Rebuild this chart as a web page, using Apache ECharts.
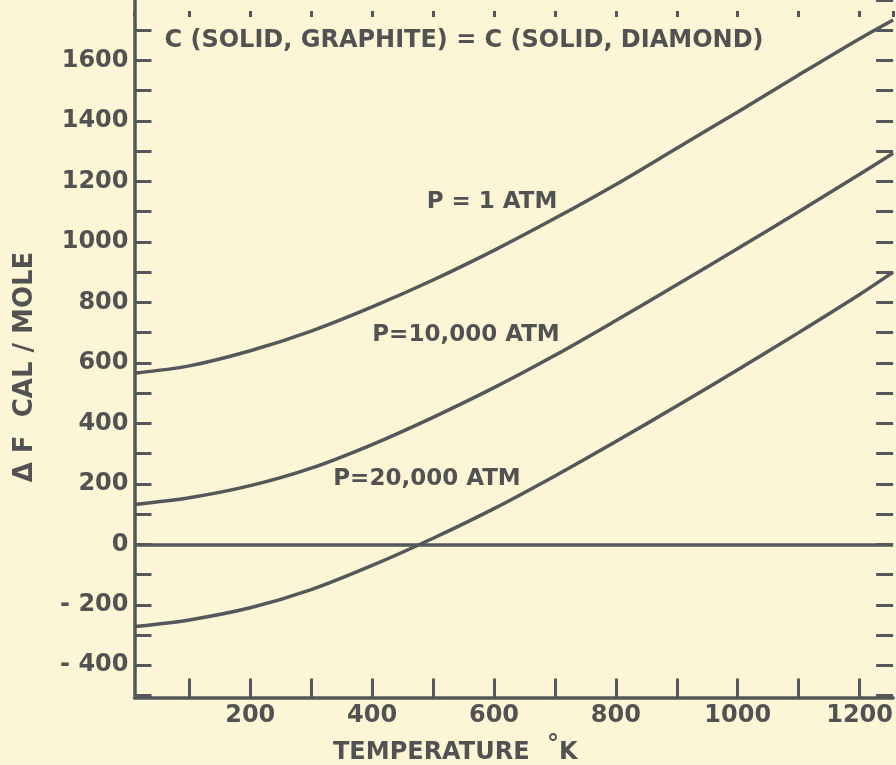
<!DOCTYPE html>
<html><head><meta charset="utf-8">
<script src="https://cdn.jsdelivr.net/npm/echarts@6/dist/echarts.min.js"></script>
<style>html,body{margin:0;padding:0;background:#fcf5d6}#c{width:896px;height:765px}</style>
</head><body><div id="c"></div>
<script>
// ---- data ----
const temperatures = [10, 100, 200, 300, 400, 500, 600, 700, 800, 900, 1000, 1100, 1200, 1255];
const p1atm      = [566, 590, 640, 705, 785, 874, 972, 1078, 1190, 1310, 1430, 1552, 1672, 1734];
const p10000atm  = [132, 154, 194, 252, 330, 420, 518, 625, 740, 858, 978, 1100, 1224, 1293];
const p20000atm  = [-272, -250, -210, -150, -70, 20, 118, 226, 340, 457, 577, 700, 826, 900];
const xTickLabels = [200, 400, 600, 800, 1000, 1200];
const yTickLabels = [-400, -200, 0, 200, 400, 600, 800, 1000, 1200, 1400, 1600];
const seriesNames = ['P = 1 ATM', 'P=10,000 ATM', 'P=20,000 ATM'];
const titleText = 'C (SOLID, GRAPHITE) = C (SOLID, DIAMOND)';
const yTitle = 'Δ F  CAL / MOLE';
const xTitle = 'TEMPERATURE';
const xUnit = 'K';

const INK = '#55585a';
const TXT = '#525252';
const FONT = '"DejaVu Sans", sans-serif';

function pairs(ys) { return temperatures.map((t, i) => [t, ys[i]]); }

const chart = echarts.init(document.getElementById('c'), null, { renderer: 'canvas' });
const lineStyle = { color: INK, width: 3.5 };
const makeSeries = (name, ys, extra) => Object.assign({
  name, type: 'line', data: pairs(ys), smooth: 0.3, showSymbol: false, symbol: 'none',
  lineStyle, itemStyle: { color: INK }, silent: true
}, extra || {});

chart.setOption({
  animation: false,
  backgroundColor: '#fcf5d6',
  grid: { left: 134.5, right: 0.5, top: -2, bottom: 69.5, containLabel: false },
  xAxis: [{
    type: 'value', position: 'bottom', min: 10, max: 1255, minInterval: 100, maxInterval: 100, splitNumber: 12,
    offset: 2,
    axisLine: { show: true, onZero: false, lineStyle: { color: INK, width: 3.5 } },
    axisTick: { show: true, inside: true, length: 19, lineStyle: { color: INK, width: 3 } },
    axisLabel: {
      show: true, margin: 6, showMinLabel: false, showMaxLabel: false,
      color: TXT, fontFamily: FONT, fontWeight: 'bold', fontSize: 24,
      formatter: v => xTickLabels.includes(v) ? String(v) : ''
    },
    splitLine: { show: false }
  }, {
    type: 'value', position: 'top', min: 10, max: 1255, minInterval: 100, maxInterval: 100, splitNumber: 12,
    offset: -11,
    axisLine: { show: false, onZero: false },
    axisTick: { show: true, inside: true, length: 6, lineStyle: { color: INK, width: 3 } },
    axisLabel: { show: false },
    splitLine: { show: false }
  }],
  yAxis: [{
    type: 'value', position: 'left', min: -500, max: 1800, interval: 100,
    axisLine: { show: true, onZero: false, lineStyle: { color: INK, width: 3.5 } },
    axisTick: { show: true, inside: true, length: 17, lineStyle: { color: INK, width: 3 } },
    axisLabel: {
      show: true, margin: 6, showMaxLabel: false,
      color: TXT, fontFamily: FONT, fontWeight: 'bold', fontSize: 24,
      formatter: v => yTickLabels.includes(v) ? (v < 0 ? '- ' + (-v) : String(v)) : ''
    },
    splitLine: { show: false }
  }, {
    type: 'value', position: 'right', min: -500, max: 1800, interval: 100,
    axisLine: { show: false, onZero: false },
    axisTick: { show: true, inside: true, length: 17, lineStyle: { color: INK, width: 3 } },
    axisLabel: { show: false },
    splitLine: { show: false }
  }],
  series: [
    makeSeries(seriesNames[0], p1atm, {
      markLine: {
        silent: true, symbol: ['none', 'none'], label: { show: false },
        lineStyle: { color: INK, width: 3.5, type: 'solid' },
        data: [{ yAxis: 0 }]
      }
    }),
    makeSeries(seriesNames[1], p10000atm),
    makeSeries(seriesNames[2], p20000atm)
  ],
  graphic: [
    { type: 'text', x: 464, y: 41, silent: true,
      style: { text: titleText, fill: TXT, fontFamily: FONT, fontWeight: 'bold', fontSize: 24, align: 'center', verticalAlign: 'middle' } },
    { type: 'text', x: 492, y: 202, silent: true,
      style: { text: seriesNames[0], fill: TXT, fontFamily: FONT, fontWeight: 'bold', fontSize: 23, align: 'center', verticalAlign: 'middle' } },
    { type: 'text', x: 466, y: 335, silent: true,
      style: { text: seriesNames[1], fill: TXT, fontFamily: FONT, fontWeight: 'bold', fontSize: 23, align: 'center', verticalAlign: 'middle' } },
    { type: 'text', x: 427, y: 479, silent: true,
      style: { text: seriesNames[2], fill: TXT, fontFamily: FONT, fontWeight: 'bold', fontSize: 23, align: 'center', verticalAlign: 'middle' } },
    { type: 'text', x: 25, y: 367, rotation: Math.PI / 2, silent: true,
      style: { text: yTitle, fill: TXT, fontFamily: FONT, fontWeight: 'bold', fontSize: 26, align: 'center', verticalAlign: 'middle' } },
    { type: 'text', x: 333, y: 753, silent: true,
      style: { text: xTitle, fill: TXT, fontFamily: FONT, fontWeight: 'bold', fontSize: 24, align: 'left', verticalAlign: 'middle' } },
    { type: 'text', x: 553, y: 746, silent: true,
      style: { text: '°', fill: TXT, fontFamily: FONT, fontWeight: 'bold', fontSize: 24, align: 'center', verticalAlign: 'middle' } },
    { type: 'text', x: 559, y: 753, silent: true,
      style: { text: xUnit, fill: TXT, fontFamily: FONT, fontWeight: 'bold', fontSize: 24, align: 'left', verticalAlign: 'middle' } }
  ]
});
</script>
</body></html>
